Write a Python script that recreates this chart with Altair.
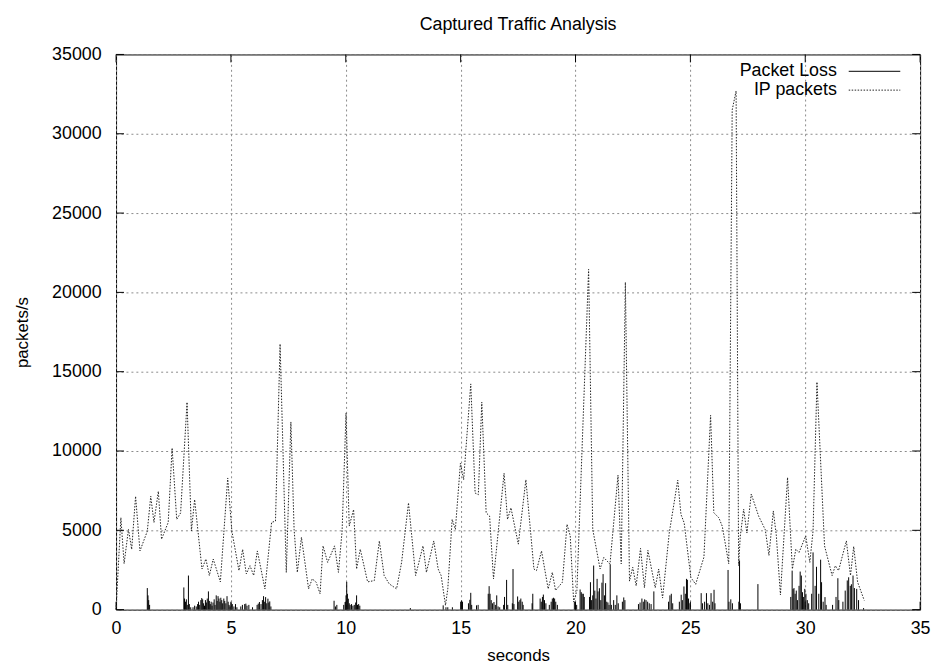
import altair as alt
import pandas as pd

title_text = "Captured Traffic Analysis"
x_title = "seconds"
y_title = "packets/s"
series_names = ["Packet Loss", "IP packets"]
x_ticks = [0, 5, 10, 15, 20, 25, 30, 35]
y_ticks = [0, 5000, 10000, 15000, 20000, 25000, 30000, 35000]

ip_t = [0.00, 0.21, 0.35, 0.54, 0.68, 0.85, 1.04, 1.36, 1.51, 1.65, 1.84, 1.98, 2.27, 2.44, 2.64, 2.81,
        3.09, 3.28, 3.42, 3.74, 3.91, 4.06, 4.23, 4.54, 4.86, 5.04, 5.35, 5.51, 5.67, 5.83, 5.99, 6.15,
        6.48, 6.77, 6.94, 7.14, 7.41, 7.61, 7.75, 7.89, 8.07, 8.38, 8.54, 8.71, 8.88, 9.01, 9.21, 9.51,
        9.68, 9.84, 10.01, 10.15, 10.34, 10.47, 10.63, 10.95, 11.24, 11.46, 11.67, 11.89, 12.21, 12.43,
        12.73, 13.04, 13.36, 13.51, 13.83, 14.02, 14.15, 14.34, 14.44, 14.63, 14.77, 14.99, 15.13, 15.44,
        15.63, 15.77, 15.92, 16.11, 16.26, 16.43, 16.89, 17.04, 17.19, 17.51, 17.84, 18.19, 18.30, 18.52,
        18.81, 18.99, 19.13, 19.43, 19.63, 19.77, 19.92, 20.06, 20.57, 20.75, 21.07, 21.23, 21.50, 21.85,
        21.99, 22.17, 22.35, 22.49, 22.64, 22.83, 23.00, 23.15, 23.47, 23.62, 23.79, 24.08, 24.45, 24.59,
        24.73, 25.02, 25.23, 25.59, 25.88, 26.02, 26.24, 26.39, 26.67, 26.82, 26.99, 27.10, 27.17, 27.32,
        27.46, 27.65, 27.97, 28.26, 28.42, 28.61, 28.74, 28.92, 29.23, 29.44, 29.59, 29.73, 30.02, 30.20,
        30.34, 30.51, 30.84, 31.17, 31.31, 31.45, 31.79, 31.97, 32.11, 32.28, 32.57]
ip_v = [0, 5800, 2900, 5060, 3800, 7150, 3700, 4950, 7150, 5500, 7460, 4440, 5500, 10190, 5690, 6100,
        13080, 4960, 6940, 2560, 3190, 2150, 3190, 1750, 8300, 4960, 2460, 3800, 2250, 2770, 2150, 3700,
        1310, 5500, 5580, 16750, 2350, 11830, 5060, 2350, 4560, 1310, 1940, 1730, 1000, 4020, 2980, 4020,
        2350, 4960, 12400, 5270, 6310, 2560, 3810, 1750, 1830, 4330, 2150, 1625, 1310, 2980,
        6730, 2150, 4020, 2350, 4330, 2560, 2150, 270, 1310, 5690, 5060, 9230, 8190, 14230,
        7350, 7250, 13080, 6100, 5900, 1940, 8600, 5690, 6420, 4130, 8190, 2560, 2460, 3700,
        1310, 2350, 1210, 1730, 5380, 4650, 480, 1210, 21450, 5060, 2560, 3290, 2870, 8480,
        2890, 20640, 1800, 2670, 1500, 3860, 1380, 3740, 1380, 2560, 730, 4830, 8160, 6000,
        5470, 2030, 1600, 3310, 12250, 6110, 5790, 5250, 2890, 31500, 32700, 2780, 4600, 6330,
        4830, 7290, 5900, 5040, 3420, 6220, 4700, 930, 8330, 2560, 3810, 3600, 4650, 2980,
        4960, 14350, 4020, 2150, 2770, 2460, 4330, 2150, 3980, 1730, 580]

loss_t = [1.36, 1.39, 1.42, 1.46,
          2.95, 2.98, 3.02, 3.06, 3.10, 3.15, 3.19, 3.25,
          3.35, 3.42, 3.49, 3.55, 3.59, 3.64, 3.69, 3.73, 3.77, 3.81, 3.85, 3.89, 3.93, 3.97, 4.02, 4.06,
          4.10, 4.14, 4.18, 4.22, 4.27, 4.31, 4.36, 4.40, 4.44, 4.48, 4.52, 4.56, 4.60, 4.64, 4.69, 4.73,
          4.78, 4.83, 4.88, 4.92, 4.96, 5.01, 5.06, 5.13, 5.20, 5.26,
          5.43, 5.50, 5.60, 5.65, 5.70, 5.78, 5.94, 6.14, 6.19, 6.24, 6.31, 6.37, 6.42, 6.47, 6.51, 6.56,
          6.61, 6.65, 6.69, 6.74,
          9.49, 9.55, 9.61, 9.91, 9.97, 10.01, 10.04, 10.07, 10.11, 10.15, 10.19, 10.25, 10.31, 10.37, 10.43,
          10.47, 10.51, 10.56, 10.61,
          12.81,
          14.24, 14.36, 14.44, 14.64,
          15.04, 15.08, 15.34, 15.40, 15.44, 15.48, 15.69, 15.76,
          16.20, 16.24, 16.28, 16.33, 16.39, 16.45, 16.51, 16.57, 16.63, 16.70,
          16.87, 16.91, 17.00, 17.05,
          17.25, 17.28, 17.32,
          17.48, 17.53, 17.58, 17.62, 17.68, 17.72,
          18.11, 18.14,
          18.46, 18.51, 18.56, 18.60, 18.65, 18.71,
          18.86, 18.94, 18.99, 19.04, 19.09, 19.14, 19.21,
          19.95, 20.00, 20.05,
          20.20, 20.25, 20.29, 20.34, 20.38,
          20.61, 20.65, 20.70, 20.75, 20.79, 20.84, 20.89, 20.94, 20.98, 21.04, 21.10, 21.15, 21.20, 21.26,
          21.31, 21.36, 21.41, 21.46, 21.51, 21.56,
          21.66, 21.73, 21.80, 21.86,
          22.04, 22.10, 22.15,
          22.74, 22.81, 22.89, 22.95, 23.01, 23.07, 23.14, 23.21, 23.29, 23.41,
          24.05, 24.11, 24.17, 24.23,
          24.52, 24.60, 24.65, 24.72, 24.78, 24.83, 24.87, 24.92, 24.98,
          25.47, 25.53, 25.62, 25.70, 25.76, 25.83, 25.90, 25.97, 26.03, 26.07,
          26.64, 26.68, 26.76, 26.83,
          27.11, 27.14, 27.18,
          27.94,
          29.37, 29.43, 29.47, 29.51, 29.56, 29.61, 29.66, 29.73, 29.78, 29.83, 29.88, 29.93, 29.98, 30.03,
          30.09, 30.15,
          30.28, 30.34, 30.43, 30.49, 30.59, 30.67, 30.71, 30.78, 30.86, 30.91,
          31.19, 31.34, 31.42, 31.46, 31.64, 31.74, 31.83, 31.89, 31.96, 32.01, 32.08, 32.14, 32.24, 32.32,
          32.54]
loss_v = [1360, 900, 600, 300,
          1400, 700, 500, 650, 300, 2150, 350, 150,
          150, 250, 200, 350, 500, 300, 600, 730, 650, 400, 250, 600, 450, 700, 1150, 550,
          350, 500, 250, 450, 650, 300, 900, 550, 850, 700, 500, 750, 600, 400, 700, 550,
          400, 850, 500, 300, 200, 450, 350, 200, 350, 150,
          200, 300, 350, 380, 250, 300, 150, 300, 380, 480, 350, 600, 850, 500, 790, 400,
          690, 450, 520, 200,
          560, 200, 300, 300, 480, 900, 1750, 1000, 690, 400, 300, 350, 250, 300, 450,
          900, 300, 350, 250,
          100,
          270, 150, 150, 150,
          580, 500, 400, 620, 1060, 300, 270, 300,
          1000, 1480, 1000, 600, 400, 480, 300, 900, 200, 150,
          300, 800, 1875, 300,
          400, 2560, 350,
          830, 500, 600, 700, 500, 300,
          400, 1000,
          700, 500, 800, 950, 600, 400,
          300, 500, 700, 750, 700, 500, 300,
          500, 450, 300,
          1270, 1100, 1000, 1000, 800,
          800, 1730, 600, 900, 2780, 1200, 700, 1940, 1150, 1350, 600, 1700, 2240, 900,
          1670, 500, 450, 300, 2860, 300,
          600, 300, 900, 400,
          500, 770, 600,
          350, 450, 700, 500, 650, 600, 500, 400, 350, 1150,
          500, 900, 1000, 400,
          500, 940, 600, 1460, 1000, 1940, 1880, 700, 400,
          1040, 400, 500, 1040, 400, 300, 1040, 500, 1250, 400,
          2500, 500, 650, 400,
          500, 3100, 400,
          1610,
          800, 2460, 1300, 1360, 1000, 1200, 600, 1500, 2400, 2150, 1100, 800, 1310, 1000,
          600, 400,
          1000, 3610, 1500, 2700, 1000, 3150, 1730, 500, 790, 300,
          300, 800, 1980, 600, 500, 1200, 1840, 2040, 1500, 1600, 2150, 1360, 1310, 600,
          100]

FONT = "Liberation Sans"
W, H = 811, 560

ip_df = pd.DataFrame({"t": ip_t, "v": ip_v})
loss_df = pd.DataFrame({"t": loss_t, "v": loss_v, "zero": [0] * len(loss_t)})
xt_df = pd.DataFrame({"t": x_ticks})
yt_df = pd.DataFrame({"v": y_ticks})

x_scale = alt.Scale(domain=[0, 35], nice=False, zero=False)
y_scale = alt.Scale(domain=[0, 35000], nice=False)

x_axis = alt.Axis(title=x_title, values=x_ticks, format="d", grid=True, gridDash=[2, 3],
                  gridColor="#8a8a8a", gridWidth=1, domain=False, ticks=False, tickSize=0,
                  labelPadding=10, labelFontSize=18, labelColor="black", labelFont=FONT,
                  titleFontSize=17, titleFontWeight="normal", titleColor="black", titleFont=FONT,
                  titlePadding=10, labelFlush=False)
y_axis = alt.Axis(title=y_title, values=y_ticks, format="d", grid=True, gridDash=[2, 3],
                  gridColor="#8a8a8a", gridWidth=1, domain=False, ticks=False, tickSize=0,
                  labelPadding=15, labelFontSize=18, labelColor="black", labelFont=FONT,
                  titleFontSize=17, titleFontWeight="normal", titleColor="black", titleFont=FONT,
                  titlePadding=20, labelFlush=False)

X = alt.X("t:Q", scale=x_scale, axis=x_axis)
Y = alt.Y("v:Q", scale=y_scale, axis=y_axis)

loss = alt.Chart(loss_df).mark_rule(color="black", strokeWidth=1).encode(
    x=X, y=Y, y2="zero:Q",
)

ip_line = alt.Chart(ip_df).mark_line(color="#222222", strokeWidth=1, strokeDash=[1.5, 1.5]).encode(
    x=X, y=Y,
)

tick_len = 8
xt_bottom = alt.Chart(xt_df).mark_rule(color="black", strokeWidth=1).encode(
    x=X, y=alt.value(H), y2=alt.value(H - tick_len))
xt_top = alt.Chart(xt_df).mark_rule(color="black", strokeWidth=1).encode(
    x=X, y=alt.value(0), y2=alt.value(tick_len))
yt_left = alt.Chart(yt_df).mark_rule(color="black", strokeWidth=1).encode(
    y=Y, x=alt.value(0), x2=alt.value(tick_len))
yt_right = alt.Chart(yt_df).mark_rule(color="black", strokeWidth=1).encode(
    y=Y, x=alt.value(W - tick_len), x2=alt.value(W))

leg_df0 = pd.DataFrame({"label": [series_names[0]]})
leg_df1 = pd.DataFrame({"label": [series_names[1]]})
leg_text0 = alt.Chart(leg_df0).mark_text(align="right", baseline="middle", fontSize=18, font=FONT,
                                         color="black").encode(
    text="label:N", x=alt.value(727), y=alt.value(17))
leg_text1 = alt.Chart(leg_df1).mark_text(align="right", baseline="middle", fontSize=18, font=FONT,
                                         color="black").encode(
    text="label:N", x=alt.value(727), y=alt.value(36))
leg_line0 = alt.Chart(leg_df0).mark_rule(color="black", strokeWidth=1).encode(
    x=alt.value(739), x2=alt.value(791), y=alt.value(17))
leg_line1 = alt.Chart(leg_df1).mark_rule(color="#222222", strokeWidth=1, strokeDash=[1.5, 1.5]).encode(
    x=alt.value(739), x2=alt.value(791), y=alt.value(36))

chart = alt.layer(
    loss, ip_line, xt_bottom, xt_top, yt_left, yt_right,
    leg_text0, leg_text1, leg_line0, leg_line1,
).properties(
    width=W, height=H,
    title=alt.TitleParams(title_text, fontSize=18, fontWeight="normal", font=FONT, color="black",
                          anchor="middle", frame="group", offset=12),
    padding={"left": 109, "top": 44, "right": 12, "bottom": 54},
    autosize=alt.AutoSizeParams(type="none"),
).configure(font=FONT, background="white").configure_view(stroke="black", strokeWidth=1)

chart.save("out.html", embed_options={"renderer": "svg", "actions": False})
